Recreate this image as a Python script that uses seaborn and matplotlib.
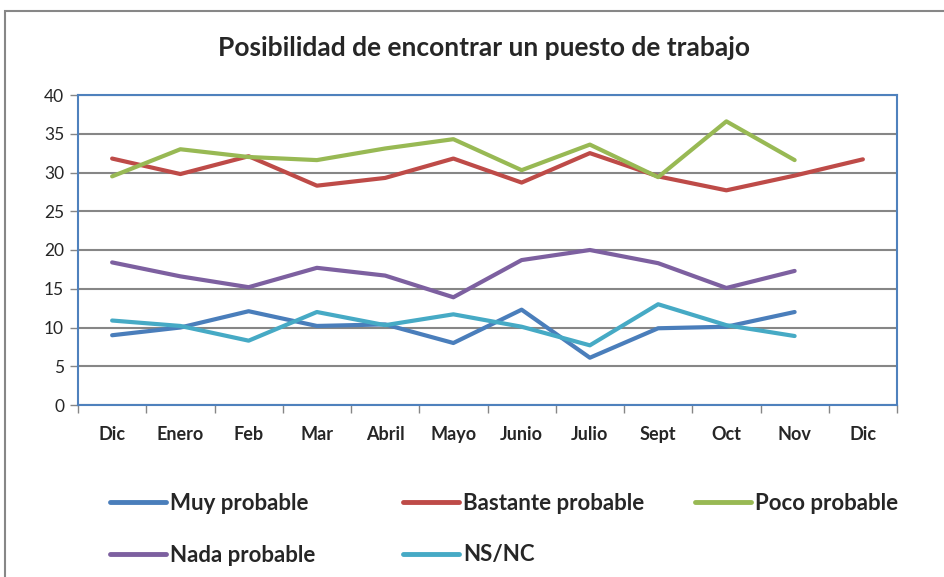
import numpy as np
import pandas as pd
import matplotlib
matplotlib.use("Agg")
import matplotlib.pyplot as plt
import seaborn as sns
from matplotlib.patches import Rectangle
from matplotlib.lines import Line2D

# ==============================
# Datos
# ==============================
meses = ['Dic', 'Enero', 'Feb', 'Mar', 'Abril', 'Mayo', 'Junio', 'Julio',
         'Sept', 'Oct', 'Nov', 'Dic']

muy_probable = [9.0, 10.0, 12.1, 10.2, 10.4, 8.0, 12.3, 6.1, 9.9, 10.1, 12.0, np.nan]
bastante_probable = [31.8, 29.8, 32.1, 28.3, 29.3, 31.8, 28.7, 32.5, 29.5, 27.7, 29.6, 31.7]
poco_probable = [29.5, 33.0, 32.0, 31.6, 33.1, 34.3, 30.3, 33.6, 29.4, 36.6, 31.6, np.nan]
nada_probable = [18.4, 16.6, 15.2, 17.7, 16.7, 13.9, 18.7, 20.0, 18.3, 15.1, 17.3, np.nan]
ns_nc = [10.9, 10.2, 8.3, 12.0, 10.3, 11.7, 10.1, 7.7, 13.0, 10.3, 8.9, np.nan]

series = ['Muy probable', 'Bastante probable', 'Poco probable', 'Nada probable', 'NS/NC']
colores = ['#4A7EBB', '#BE4B48', '#98B954', '#7D60A0', '#46AAC5']

df = pd.DataFrame({
    'pos': list(range(len(meses))) * 5,
    'valor': muy_probable + bastante_probable + poco_probable + nada_probable + ns_nc,
    'serie': [s for s in series for _ in meses],
})

# ==============================
# Gráfico
# ==============================
sns.set_theme(style="white")
plt.rcParams['font.family'] = ['Lato', 'DejaVu Sans']

fig = plt.figure(figsize=(9.44, 5.77), dpi=100)
ax = fig.add_axes([78 / 944, 1 - 405 / 577, (897 - 78) / 944, (405 - 95) / 577])

sns.lineplot(data=df, x='pos', y='valor', hue='serie', hue_order=series,
             palette=colores, linewidth=3, legend=False, ax=ax)

ax.set_xlim(-0.5, len(meses) - 0.5)
ax.set_ylim(0, 40)
ax.set_yticks(range(0, 41, 5))
ax.yaxis.grid(True, color='#868686', linewidth=1.5)
ax.set_axisbelow(True)
ax.set_xlabel('')
ax.set_ylabel('')

# ticks del eje x en los límites de categoría, etiquetas en el centro
ax.set_xticks(np.arange(-0.5, len(meses), 1.0))
ax.set_xticklabels([])
ax.set_xticks(range(len(meses)), minor=True)
ax.set_xticklabels(meses, minor=True, fontsize=13, fontweight='bold')
ax.tick_params(axis='x', which='major', length=6, color='#868686', width=1, direction='out', bottom=True)
ax.tick_params(axis='x', which='minor', length=0, pad=15)
ax.tick_params(axis='y', length=6, color='#868686', width=1, direction='out', left=True, labelsize=12.5, pad=4)

for sp in ax.spines.values():
    sp.set_color('#4F81BD')
    sp.set_linewidth(1.5)

fig.text(484 / 944, 1 - 48 / 577, 'Posibilidad de encontrar un puesto de trabajo',
         ha='center', va='center', fontsize=19, fontweight='bold')

# leyenda: cada entrada colocada por separado
pos_leyenda = [(110, 503), (403, 503), (695, 503), (110, 555), (403, 555)]
for nombre, color, (px, py) in zip(series, colores, pos_leyenda):
    h = Line2D([], [], color=color, linewidth=3.5)
    leg = fig.legend([h], [nombre], loc='center left', bbox_to_anchor=(px / 944, 1 - py / 577),
                     frameon=False, handlelength=2.5, handletextpad=0.2, borderpad=0,
                     borderaxespad=0, prop={'size': 16, 'weight': 'bold'})

# borde exterior del gráfico
fig.add_artist(Rectangle((5 / 944, -0.05), 1.1, 1 - 11 / 577 + 0.05, transform=fig.transFigure,
                         fill=False, edgecolor='#878787', linewidth=1.5))

fig.savefig('out.png', dpi=100)
